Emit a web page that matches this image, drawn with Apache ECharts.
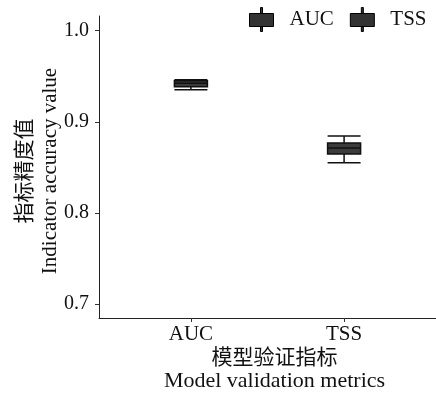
<!DOCTYPE html>
<html><head><meta charset="utf-8">
<script src="https://cdn.jsdelivr.net/npm/echarts@6/dist/echarts.min.js"></script>
<style>html,body{margin:0;padding:0;background:#fff}#c{width:436px;height:394px}</style>
</head><body><div id="c"></div>
<script>
const categories = ['AUC', 'TSS'];
const categoryPos = [1, 2];
// [min, Q1, median, Q3, max]
const aucBox = [0.9352, 0.9385, 0.9423, 0.9451, 0.9462];
const tssBox = [0.8551, 0.8646, 0.8712, 0.8767, 0.8844];
const yTicks = [0.7, 0.8, 0.9, 1.0];
const legendNames = ['AUC', 'TSS'];

const FONT = '"Liberation Serif", "Noto Sans CJK SC", serif';
const iconPath = 'path://M11,0h2v6h-2z M0,6h24v13h-24z M11,19h2v5h-2z';

const chart = echarts.init(document.getElementById('c'), null, {renderer: 'canvas'});
chart.setOption({
  animation: false,
  backgroundColor: '#fff',
  textStyle: {fontFamily: FONT},
  grid: {left: 99, right: 0, top: 16, bottom: 76, containLabel: false, outerBoundsMode: 'none'},
  legend: {
    data: legendNames.map(n => ({name: n, icon: iconPath})),
    orient: 'horizontal', left: 249, top: 7, width: 187, padding: 0,
    itemWidth: 24, itemHeight: 24, itemGap: 16,
    itemStyle: {color: '#333', borderColor: '#000', borderWidth: 1},
    textStyle: {fontFamily: FONT, fontSize: 21, color: '#111', padding: [0, 0, 0, 11]}
  },
  xAxis: {
    type: 'value', min: 0.4, max: 2.6,
    name: '{a|模型验证指标}\n{b|Model validation metrics}',
    nameLocation: 'middle', nameGap: 29, nameMoveOverlap: false,
    nameTextStyle: {
      fontFamily: FONT, fontSize: 22, color: '#111', lineHeight: 23,
      padding: [0, 0, 0, 14],
      rich: {a: {fontFamily: FONT, fontSize: 21, color: '#111', lineHeight: 23},
             b: {fontFamily: FONT, fontSize: 22, color: '#111', lineHeight: 23}}
    },
    splitLine: {show: false},
    axisLine: {show: true, onZero: false, lineStyle: {color: '#222', width: 1}},
    axisTick: {show: true, length: 4, customValues: categoryPos, lineStyle: {color: '#333'}},
    axisLabel: {
      customValues: categoryPos, margin: 6, fontFamily: FONT, fontSize: 21, color: '#111',
      formatter: v => categories[categoryPos.indexOf(Math.round(v))] || ''
    }
  },
  yAxis: {
    type: 'value', min: 0.6846, max: 1.0161,
    name: '{a|指标精度值}\n{b|Indicator accuracy value}',
    nameLocation: 'middle', nameRotate: 90, nameGap: 36, nameMoveOverlap: false,
    nameTextStyle: {
      fontFamily: FONT, fontSize: 21, color: '#111', lineHeight: 25,
      padding: [0, 8, 0, 0],
      rich: {a: {fontFamily: FONT, fontSize: 21, color: '#111', lineHeight: 25},
             b: {fontFamily: FONT, fontSize: 21, color: '#111', lineHeight: 25}}
    },
    splitLine: {show: false},
    axisLine: {show: true, onZero: false, lineStyle: {color: '#222', width: 1}},
    axisTick: {show: true, length: 4, customValues: yTicks, lineStyle: {color: '#333'}},
    axisLabel: {
      customValues: yTicks, margin: 10, fontFamily: FONT, fontSize: 20, color: '#111',
      formatter: v => v.toFixed(1)
    }
  },
  series: [
    {name: 'AUC', type: 'line', data: [], symbol: 'none'},
    {name: 'TSS', type: 'line', data: [], symbol: 'none'},
    {
      name: 'box', type: 'boxplot',
      boxWidth: [33, 33],
      itemStyle: {color: '#3c3c3c', borderColor: '#111', borderWidth: 1.5},
      data: [
        [categoryPos[0]].concat(aucBox),
        [categoryPos[1]].concat(tssBox)
      ]
    }
  ]
});
</script></body></html>
